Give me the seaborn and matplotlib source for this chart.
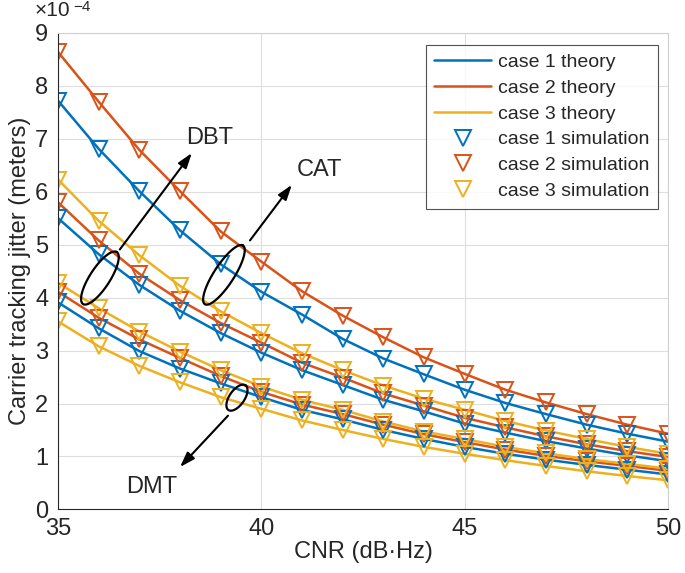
import numpy as np
import pandas as pd
import matplotlib
matplotlib.use("Agg")
import matplotlib.pyplot as plt
import seaborn as sns
from matplotlib.lines import Line2D
from matplotlib.ticker import FuncFormatter

# ---------------------------------------------------------
# data: carrier tracking jitter, read in units of 1e-4 m
# ---------------------------------------------------------
cnr = list(range(35, 51))

upper_case1 = [7.72, 6.81, 6.01, 5.27, 4.63, 4.11, 3.68, 3.22, 2.85, 2.55, 2.26, 2.01, 1.80, 1.60, 1.43, 1.28]
upper_case2 = [8.64, 7.70, 6.79, 6.01, 5.25, 4.68, 4.12, 3.66, 3.25, 2.87, 2.56, 2.26, 2.02, 1.80, 1.60, 1.43]

mid_case1 = [5.50, 4.82, 4.24, 3.75, 3.33, 2.96, 2.63, 2.35, 2.07, 1.85, 1.62, 1.45, 1.29, 1.15, 1.02, 0.91]
mid_case2 = [5.80, 5.08, 4.45, 3.95, 3.52, 3.15, 2.77, 2.49, 2.19, 1.96, 1.73, 1.55, 1.38, 1.23, 1.10, 0.99]
mid_case3 = [6.23, 5.45, 4.80, 4.22, 3.74, 3.33, 2.95, 2.63, 2.34, 2.09, 1.88, 1.67, 1.49, 1.33, 1.18, 1.05]

low_case1 = [3.91, 3.42, 2.99, 2.66, 2.38, 2.12, 1.88, 1.70, 1.50, 1.33, 1.18, 1.05, 0.94, 0.84, 0.75, 0.66]
low_case2 = [4.11, 3.62, 3.21, 2.86, 2.52, 2.22, 1.98, 1.80, 1.60, 1.42, 1.27, 1.13, 1.01, 0.91, 0.82, 0.73]
low_case3 = [4.28, 3.80, 3.36, 2.98, 2.63, 2.32, 2.07, 1.88, 1.66, 1.47, 1.33, 1.18, 1.06, 0.95, 0.86, 0.77]
low_case3b = [3.55, 3.08, 2.71, 2.40, 2.12, 1.90, 1.68, 1.50, 1.33, 1.18, 1.05, 0.93, 0.82, 0.72, 0.63, 0.55]

curves = [
    ("upper1", 1, upper_case1), ("upper2", 2, upper_case2),
    ("mid1", 1, mid_case1), ("mid2", 2, mid_case2), ("mid3", 3, mid_case3),
    ("low1", 1, low_case1), ("low2", 2, low_case2), ("low3", 3, low_case3),
    ("low3b", 3, low_case3b),
]
colors = {1: "#0072BD", 2: "#D95319", 3: "#EDB120"}

rows = []
for name, case, vals in curves:
    for x, v in zip(cnr, vals):
        rows.append({"curve": name, "case": case, "CNR": x, "jitter": v * 1e-4})
df = pd.DataFrame(rows)

# ---------------------------------------------------------
# figure
# ---------------------------------------------------------
sns.set_style("white")
plt.rcParams["font.family"] = ["Liberation Sans", "DejaVu Sans"]

fig = plt.figure(figsize=(6.85, 5.73), dpi=100)
ax = fig.add_axes([0.0847, 0.111, 0.8905, 0.8316])

# theory lines
sns.lineplot(data=df, x="CNR", y="jitter", hue="case", units="curve", estimator=None,
             palette=colors, lw=1.8, legend=False, ax=ax)

# simulation markers
for case in [1, 2, 3]:
    sub = df[df["case"] == case]
    ax.plot(sub["CNR"], sub["jitter"], ls="none", marker="v", ms=11,
            mfc="none", mec=colors[case], mew=1.4)

ax.set_xlim(35, 50)
ax.set_ylim(0, 9e-4)
ax.set_xticks([35, 40, 45, 50])
ax.set_yticks(np.arange(0, 10) * 1e-4)
ax.yaxis.set_major_formatter(FuncFormatter(lambda v, _: f"{int(round(v * 1e4))}"))
ax.tick_params(direction="in", length=5, labelsize=17, colors="#262626")
ax.tick_params(axis="x", pad=6)
ax.tick_params(axis="y", pad=7)
ax.grid(True, color="#dedede", lw=0.8)
for side in ["left", "bottom"]:
    ax.spines[side].set_color("#262626")
    ax.spines[side].set_linewidth(0.8)
for side in ["top", "right"]:
    ax.spines[side].set_color("#d0d0d0")
    ax.spines[side].set_linewidth(0.8)

ax.set_xlabel("CNR (dB·Hz)", fontsize=17, labelpad=1)
ax.set_ylabel("Carrier tracking jitter (meters)", fontsize=17, labelpad=3)

# exponent label
fig.text(35 / 685, 1 - 16 / 573, "×10", fontsize=15, color="#262626", va="baseline")
fig.text(73 / 685, 1 - 11 / 573, "−4", fontsize=11, color="#262626", va="baseline")

# legend
handles = [Line2D([], [], color=colors[c], lw=1.8) for c in [1, 2, 3]]
handles += [Line2D([], [], ls="none", marker="v", ms=11, mfc="none", mec=colors[c], mew=1.4)
            for c in [1, 2, 3]]
labels = [f"case {c} theory" for c in [1, 2, 3]] + [f"case {c} simulation" for c in [1, 2, 3]]
leg = ax.legend(handles, labels, loc="upper right", bbox_to_anchor=(0.983, 0.975),
                fontsize=14, frameon=True, fancybox=False, edgecolor="#262626",
                handlelength=2.9, handletextpad=0.35, labelspacing=0.42, borderpad=0.45,
                borderaxespad=0)
leg.get_frame().set_linewidth(0.8)


# annotation ellipses, drawn in screen pixels around a data centre
def ellipse(cx, cy, a, b, angle):
    cxd, cyd = ax.transData.transform((cx, cy))
    t = np.linspace(0, 2 * np.pi, 200)
    th = np.deg2rad(angle)
    dx = a * np.cos(t) * np.cos(th) - b * np.sin(t) * np.sin(th)
    dy = a * np.cos(t) * np.sin(th) + b * np.sin(t) * np.cos(th)
    pts = ax.transData.inverted().transform(np.column_stack([cxd + dx, cyd + dy]))
    ax.plot(pts[:, 0], pts[:, 1], color="k", lw=1.6)


ellipse(36.03, 4.37e-4, 31, 10, 57)
ellipse(39.08, 4.43e-4, 35, 10, 57)
ellipse(39.40, 2.11e-4, 15, 7.5, 55)

arrow = dict(arrowstyle="-|>,head_length=0.9,head_width=0.3", color="k", lw=1.5,
             shrinkA=0, shrinkB=0)
ax.annotate("", xy=(38.29, 6.73e-4), xytext=(36.52, 4.91e-4), arrowprops=arrow)
ax.annotate("", xy=(40.75, 6.13e-4), xytext=(39.72, 5.08e-4), arrowprops=arrow)
ax.annotate("", xy=(38.00, 0.80e-4), xytext=(39.18, 1.77e-4), arrowprops=arrow)

ax.text(38.74, 7.01e-4, "DBT", fontsize=17, ha="center", va="center")
ax.text(41.44, 6.41e-4, "CAT", fontsize=17, ha="center", va="center")
ax.text(37.31, 0.42e-4, "DMT", fontsize=17, ha="center", va="center")

fig.savefig("out.png", dpi=100)
